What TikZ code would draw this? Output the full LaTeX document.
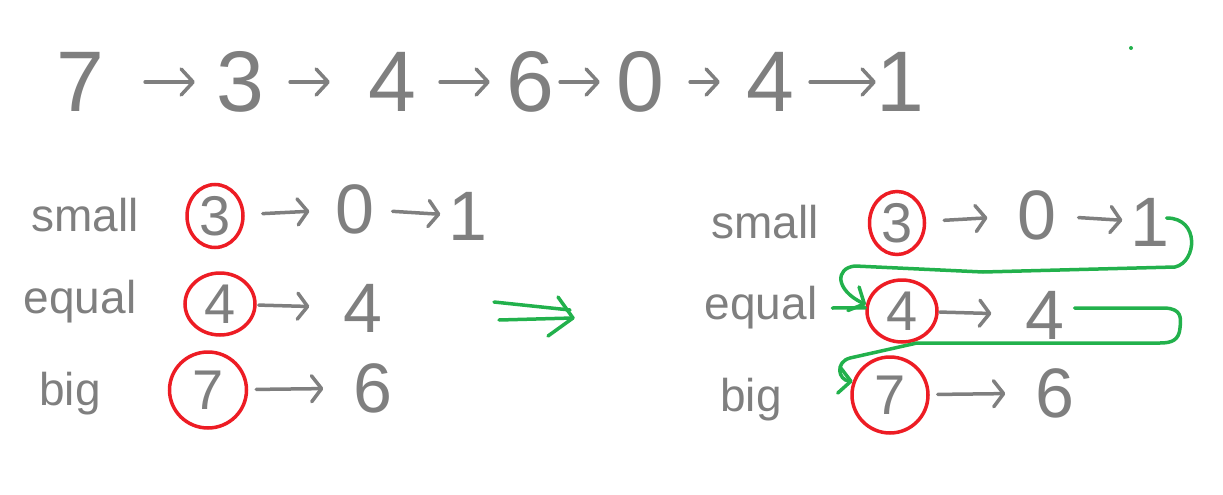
\documentclass[tikz,border=0pt]{standalone}
\usepackage{fontspec}
\setmainfont{Liberation Sans}
\usetikzlibrary{arrows.meta, shapes.geometric}
\definecolor{pengray}{RGB}{127,127,127}
\definecolor{penred}{RGB}{237,28,36}
\definecolor{pengreen}{RGB}{34,177,76}

\begin{document}
\begin{tikzpicture}[x=1pt, y=-1pt,
    digit/.style={text=pengray, inner sep=0pt, font=\fontsize{70}{70}\selectfont},
    topdigit/.style={digit, font=\fontsize{86}{86}\selectfont},
    word/.style={text=pengray, inner sep=0pt, font=\fontsize{46}{46}\selectfont},
    ring/.style={digit, font=\fontsize{56}{56}\selectfont, draw=penred, ellipse, line width=3.5pt},
    link/.style={draw=pengray, line width=3.5pt, line cap=round,
        -{Straight Barb[length=10pt,width=26pt,round]}, shorten <=8pt, shorten >=26pt},
    toplink/.style={draw=pengray, line width=3.5pt, line cap=round,
        -{Straight Barb[length=12pt,width=26pt,round]}},
    hop/.style={draw=pengreen, line width=3.5pt, line cap=round, line join=round,
        -{Straight Barb[length=12pt,width=26pt,round]}},
    pen/.style={draw=pengreen, line width=3.5pt, line cap=round, line join=round}]
\useasboundingbox (0,0) rectangle (1223,495);

% the list
\foreach \d/\x [count=\i] in {7/80, 3/240, 4/392, 6/530, 0/640, 4/770, 1/900}
    \node[topdigit] (t\i) at (\x,82) {\d};
\foreach \i/\j/\a/\b in {1/2/41/21, 2/3/26/38, 3/4/24/16, 4/5/6/16, 5/6/26/26, 6/7/16/0}
    \draw[toplink, shorten <=\a pt, shorten >=\b pt] (t\i) -- (t\j);

% left: three lists
\node[word] (ls) at (85,215) {small};
\node[word] (le) at (80,302) {equal};
\node[word] (lb) at (70,394) {big};
\node[ring, minimum width=56pt, minimum height=63pt] (lc3) at (215,216) {3};
\node[digit] (l0) at (355,209) {0};
\node[digit] (l1) at (468,216) {1};
\node[ring, minimum width=70pt, minimum height=62pt] (lc4) at (220,304) {4};
\node[digit] (l4) at (363,308) {4};
\node[ring, minimum width=77pt, minimum height=76pt] (lc7) at (208,390) {7};
\node[digit] (l6) at (373,388) {6};
\draw[link, shorten <=18pt] (lc3) -- (l0);
\draw[link, shorten <=18pt, shorten >=8pt] (l0) -- (l1);
\draw[link, shorten <=2pt, shorten >=34pt] (lc4) -- (l4);
\draw[link, shorten >=30pt] (lc7) -- (l6);

% becomes
\coordinate (imp1) at (494,302);
\coordinate (imp2) at (570,310);
\coordinate (imp3) at (499,320);
\coordinate (imp4) at (573,318);
\draw[pen] (imp1) -- (imp2);
\draw[pen] (imp3) -- (imp4);
\draw[pen] (558,297) -- (imp4) -- (548,336);

% right: lists joined
\node[word] (rs) at (765,222) {small};
\node[word] (re) at (761,308) {equal};
\node[word] (rb) at (751,400) {big};
\node[ring, minimum width=55pt, minimum height=63pt] (rc3) at (897,223) {3};
\node[digit] (r0) at (1037,215) {0};
\node[digit] (r1) at (1150,222) {1};
\node[ring, minimum width=70pt, minimum height=62pt] (rc4) at (902,311) {4};
\node[digit] (r4) at (1045,315) {4};
\node[ring, minimum width=76pt, minimum height=76pt] (rc7) at (890,395) {7};
\node[digit] (r6) at (1055,393) {6};
\draw[link, shorten <=18pt, shorten >=30pt] (rc3) -- (r0);
\draw[link, shorten <=22pt, shorten >=8pt] (r0) -- (r1);
\draw[link, shorten <=1pt, shorten >=34pt] (rc4) -- (r4);
\draw[link, shorten >=30pt] (rc7) -- (r6);

\draw[hop] ([xshift=-3pt,yshift=4pt]r1.east) .. controls (1200,218) and (1197,262) .. (1175,267)
    -- (983,272) -- (855,266) .. controls (835,268) and (835,290) .. (rc4.170);
\draw[pen] ([xshift=15pt]re.east) -- (rc4.175);
\draw[hop] ([xshift=10pt,yshift=7pt]r4.east) -- (1165,308) .. controls (1182,309) and (1181,318) .. (1180,328)
    .. controls (1179,340) and (1172,343) .. (1160,343) -- (917,343) -- (850,358)
    .. controls (835,362) and (838,380) .. (rc7.160);

\fill[pengreen] (1131,48) circle (2pt);
\end{tikzpicture}
\end{document}
